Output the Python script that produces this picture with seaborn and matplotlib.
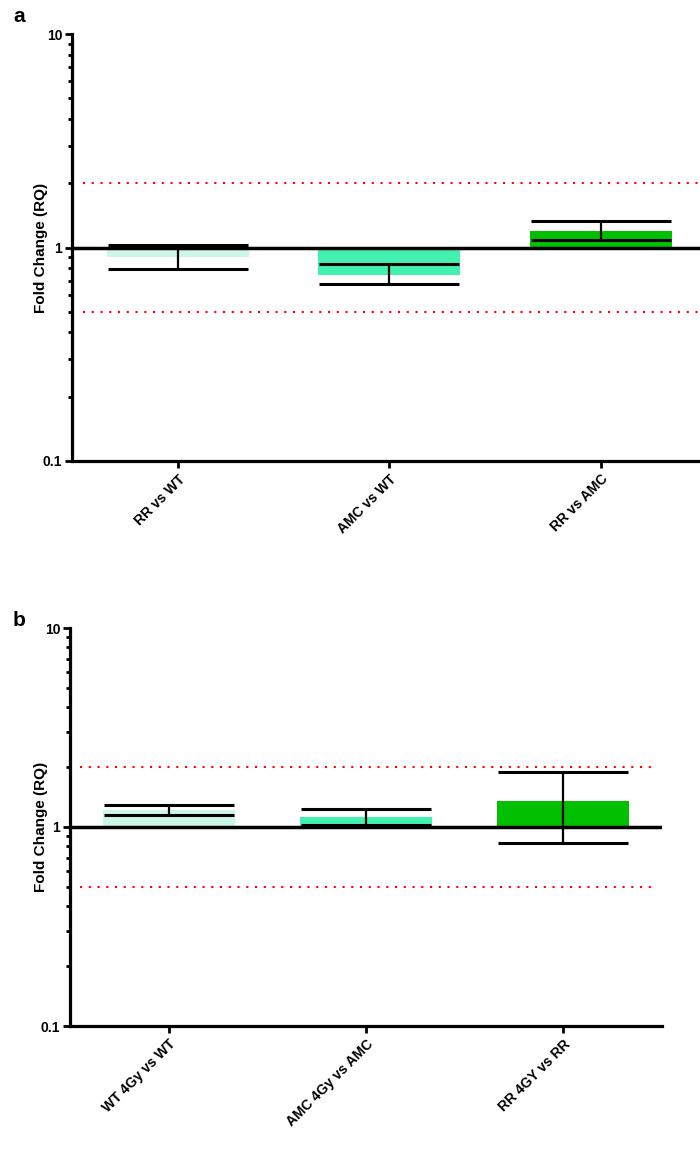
import numpy as np
import matplotlib
matplotlib.use("Agg")
import matplotlib.pyplot as plt
import seaborn as sns

# Panel a: baseline comparisons
cats_a = ["RR vs WT", "AMC vs WT", "RR vs AMC"]
rq_a = [0.898, 0.747, 1.201]
rq_a_low = [0.797, 0.671, 1.090]
rq_a_high = [1.022, 0.841, 1.324]

# Panel b: irradiated (4Gy) vs untreated
cats_b = ["WT 4Gy vs WT", "AMC 4Gy vs AMC", "RR 4GY vs RR"]
rq_b = [1.217, 1.123, 1.351]
rq_b_low = [1.149, 1.023, 0.831]
rq_b_high = [1.290, 1.230, 1.890]

bar_colors = ["#ccf7e6", "#42f0b0", "#00c000"]
threshold_up, threshold_down = 2.0, 0.5

sns.set_theme(style="ticks")
plt.rcParams["font.family"] = ["Liberation Sans", "DejaVu Sans"]
plt.rcParams["font.weight"] = "bold"
for key in ("text.color", "axes.labelcolor", "xtick.color", "ytick.color"):
    plt.rcParams[key] = "black"

W, H, DPI = 700, 1160, 100
fig = plt.figure(figsize=(W / DPI, H / DPI), dpi=DPI)


def px_axes(left, top, right, bottom):
    return fig.add_axes([left / W, 1 - bottom / H, (right - left) / W, (bottom - top) / H])


def draw_panel(ax, cats, vals, lows, highs, cap_px, line_end, label_x):
    sns.barplot(x=cats, y=vals, hue=cats, palette=bar_colors, width=0.67,
                errorbar=None, legend=False, ax=ax, saturation=1)
    # bars grow from the reference level 1 (no change)
    for patch, v in zip(ax.patches, vals):
        patch.set_y(min(v, 1.0))
        patch.set_height(abs(v - 1.0))
        patch.set_edgecolor("none")
    ax.set_yscale("log")
    ax.set_ylim(0.1, 10)
    ax.set_xlim(-0.5, 2.5)

    xs = np.arange(len(cats))
    vals = np.asarray(vals)
    yerr = np.vstack([vals - np.asarray(lows), np.asarray(highs) - vals])
    ax.errorbar(xs, vals, yerr=yerr, fmt="none", ecolor="black", elinewidth=1.6,
                capsize=cap_px * 0.72, capthick=2.2, zorder=4)

    ax.axhline(1.0, color="black", lw=2.5, zorder=3)
    for lvl in (threshold_up, threshold_down):
        ax.plot([-0.45, line_end], [lvl, lvl], color="red", lw=1.5,
                linestyle=(0, (1, 3.2)), zorder=2)

    ax.set_yticks([0.1, 1, 10])
    ax.set_yticklabels(["0.1", "1", "10"])
    ax.yaxis.set_minor_locator(matplotlib.ticker.LogLocator(base=10, subs=np.arange(2, 10)))
    ax.yaxis.set_minor_formatter(matplotlib.ticker.NullFormatter())
    ax.tick_params(axis="y", which="major", length=5, width=2, labelsize=10, pad=2)
    ax.tick_params(axis="y", which="minor", length=3, width=2)
    ax.tick_params(axis="x", length=5, width=2, labelsize=10, pad=3)
    ax.set_xticks(xs)
    ax.set_xticklabels(cats, rotation=45, ha="right", rotation_mode="anchor",
                       fontweight="bold")
    for lab in ax.get_yticklabels():
        lab.set_fontweight("bold")
    ax.set_ylabel("Fold Change (RQ)", fontsize=11, fontweight="bold")
    ax.yaxis.set_label_coords(label_x, 0.5)
    ax.set_xlabel("")
    sns.despine(ax=ax)
    for s in ("left", "bottom"):
        ax.spines[s].set_linewidth(2.3)
        ax.spines[s].set_color("black")


ax_a = px_axes(72, 34, 706.5, 461)
draw_panel(ax_a, cats_a, rq_a, rq_a_low, rq_a_high, cap_px=70, line_end=2.6,
           label_x=-0.038)
ax_b = px_axes(70, 628, 662, 1026)
draw_panel(ax_b, cats_b, rq_b, rq_b_low, rq_b_high, cap_px=65, line_end=2.47,
           label_x=-0.037)

fig.text(13 / W, 1 - 16 / H, "a", fontsize=15, fontweight="bold", va="center", ha="left")
fig.text(13 / W, 1 - 620 / H, "b", fontsize=15, fontweight="bold", va="center", ha="left")

fig.savefig("out.png", dpi=DPI)
